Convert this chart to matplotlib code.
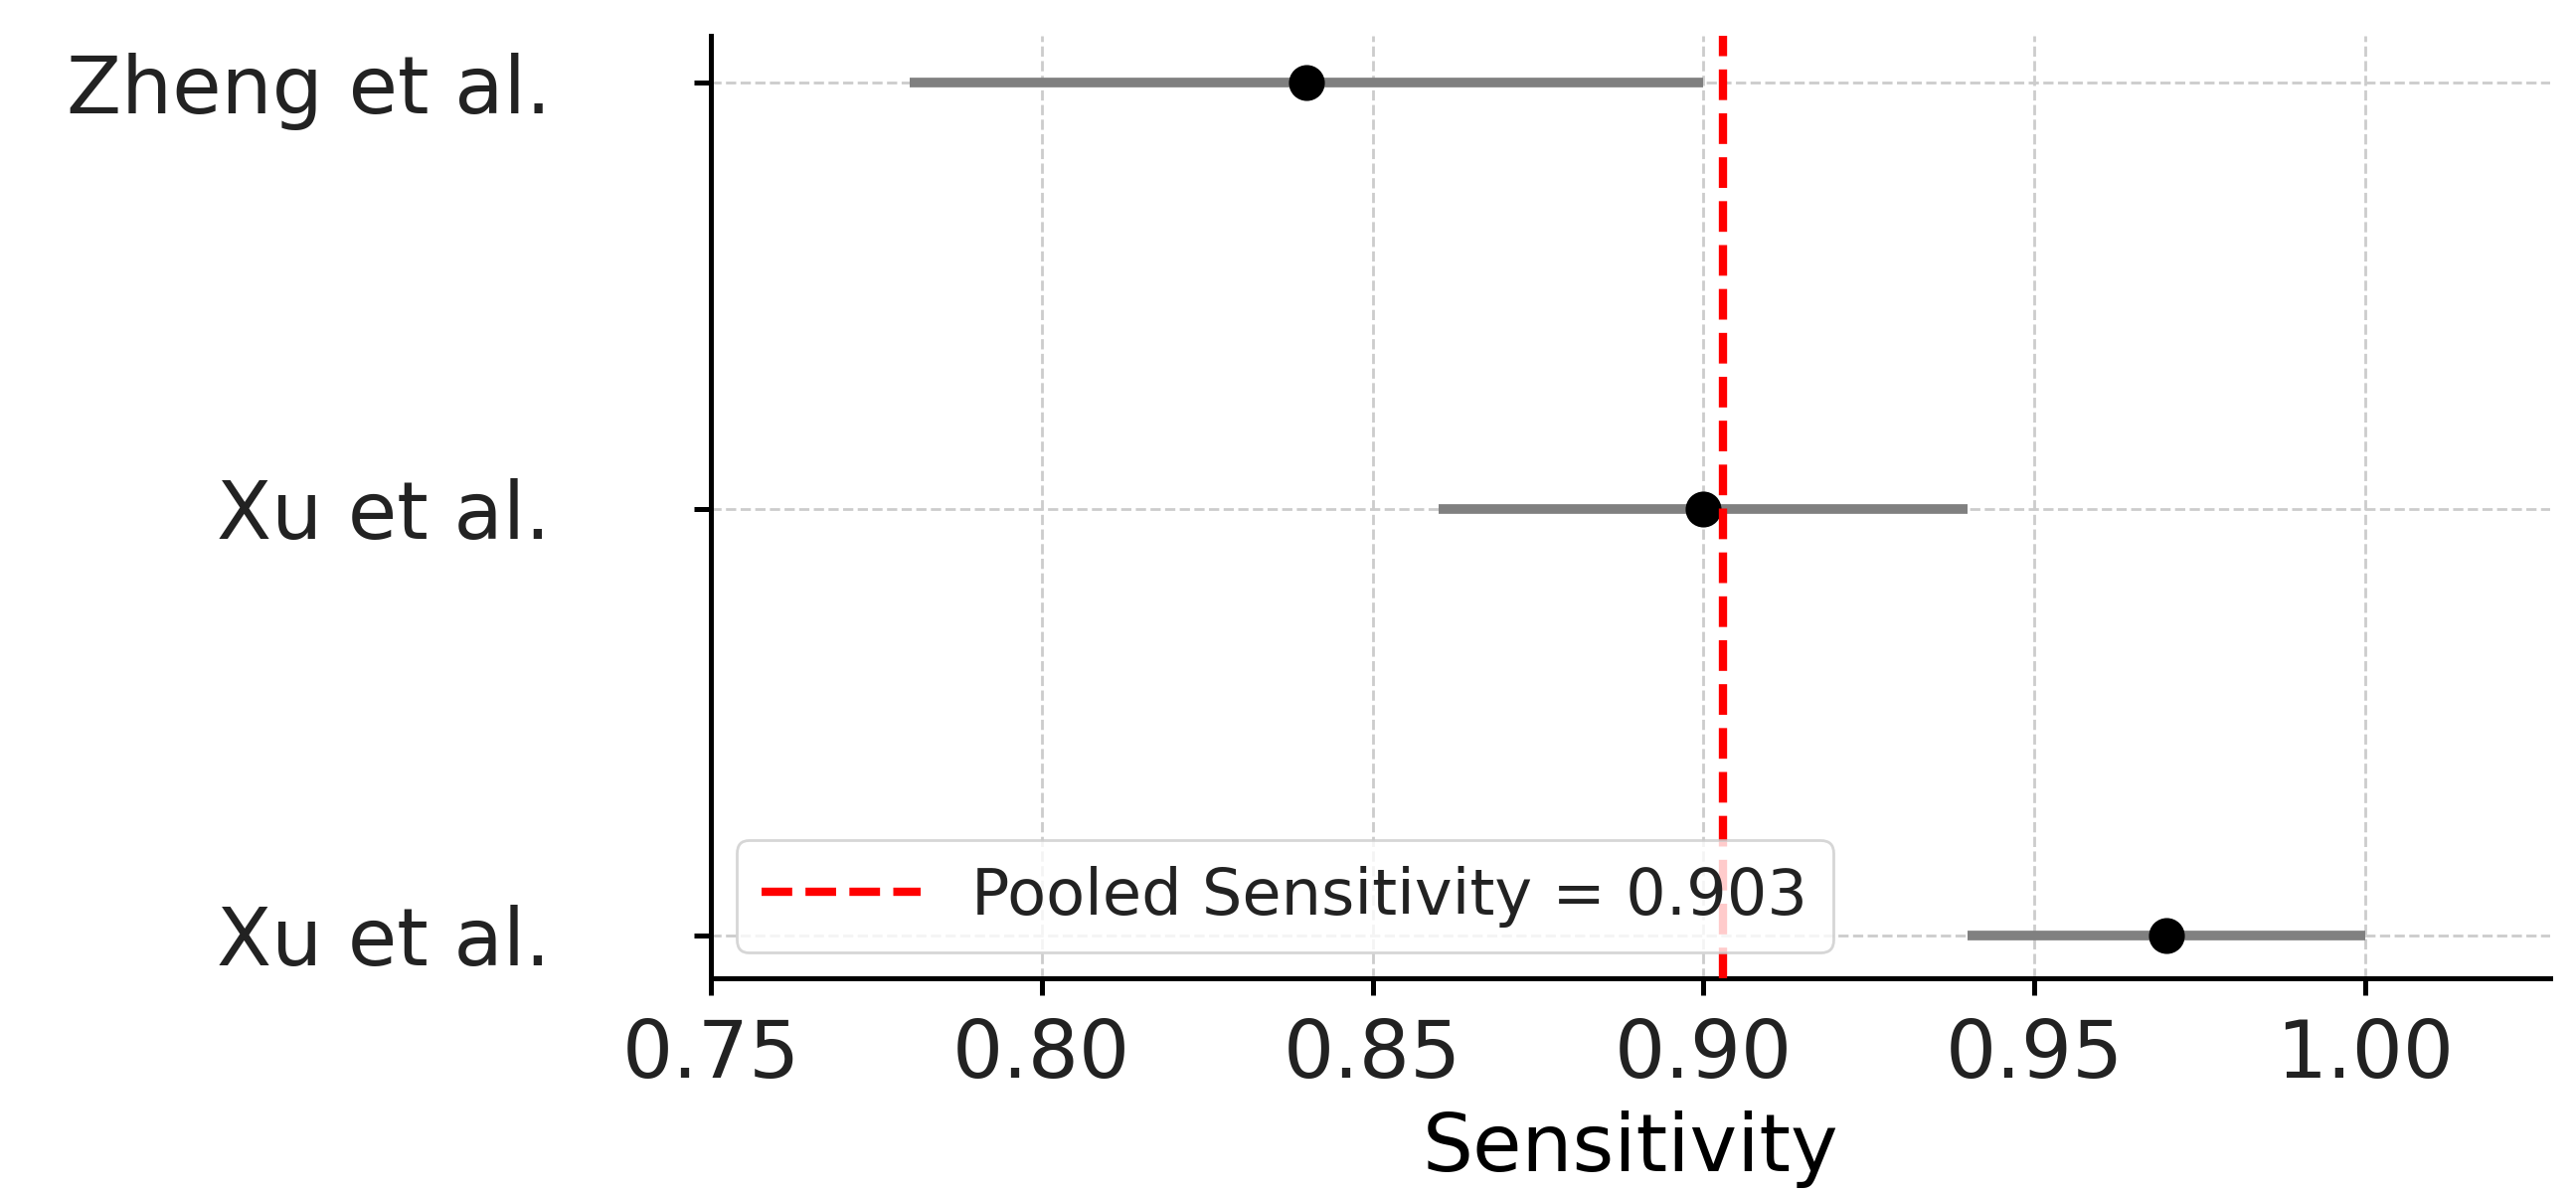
import matplotlib
matplotlib.use("Agg")
import matplotlib.pyplot as plt

studies = ["Zheng et al.", "Xu et al.", "Xu et al."]
sens = [0.84, 0.90, 0.97]
lower = [0.78, 0.86, 0.94]
upper = [0.90, 0.94, 1.00]
pooled = 0.903

plt.rcParams["text.color"] = "#222222"
plt.rcParams["xtick.labelcolor"] = "#222222"
plt.rcParams["ytick.labelcolor"] = "#222222"
fig = plt.figure(figsize=(12.955, 6.005), dpi=200)
ax = fig.add_axes([0.276, 0.181, 0.714, 0.789])
ypos = [2, 1, 0]
for y, s, lo, hi in zip(ypos, sens, lower, upper):
    ax.plot([lo, hi], [y, y], color="gray", lw=3.5, solid_capstyle="butt", zorder=2)
    ax.plot(s, y, "o", color="black", ms=12, zorder=3)
ax.axvline(pooled, color="red", ls="--", lw=3, label=f"Pooled Sensitivity = {pooled}", zorder=4)
ax.set_yticks(ypos)
ax.set_yticklabels(studies, fontsize=29)
ax.set_xticks([0.75, 0.80, 0.85, 0.90, 0.95, 1.00])
ax.set_xticklabels(["0.75", "0.80", "0.85", "0.90", "0.95", "1.00"], fontsize=29)
ax.set_xlim(0.75, 1.028)
ax.set_ylim(-0.1, 2.11)
ax.set_xlabel("Sensitivity", fontsize=29, labelpad=6)
ax.grid(True, ls="--", color="#cccccc", lw=1)
ax.set_axisbelow(True)
for sp in ["top", "right"]:
    ax.spines[sp].set_visible(False)
for sp in ["left", "bottom"]:
    ax.spines[sp].set_linewidth(1.8)
ax.tick_params(axis="both", width=1.8, length=6)
ax.tick_params(axis="y", pad=52)
ax.tick_params(axis="x", pad=8)
ax.legend(loc="lower left", fontsize=23, framealpha=0.8, handlelength=2.5, borderaxespad=0.4)
fig.savefig("out.png", dpi=200)
